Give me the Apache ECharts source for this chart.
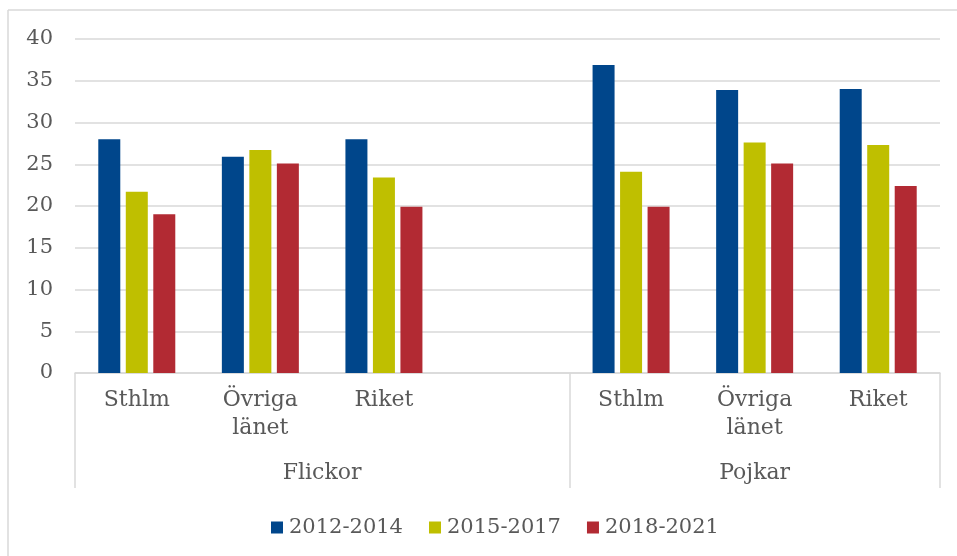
<!DOCTYPE html>
<html>
<head>
<meta charset="utf-8">
<script src="https://cdn.jsdelivr.net/npm/echarts@6/dist/echarts.min.js"></script>
<style>
  html, body { margin: 0; padding: 0; background: #fff; }
  #chart { width: 957px; height: 556px; }
</style>
</head>
<body>
<div id="chart"></div>
<script>
// kategorier (tom plats mellan Flickor och Pojkar)
const categories = ['Sthlm', 'Övriga\nlänet', 'Riket', '', 'Sthlm', 'Övriga\nlänet', 'Riket'];
const groups = ['Flickor', 'Pojkar'];
const groupSpans = [4, 3];
const seriesNames = ['2012-2014', '2015-2017', '2018-2021'];
const colors = ['#00468b', '#bfbf00', '#b22a33'];

const v2012 = [28.0, 25.9, 28.0, null, 36.9, 33.9, 34.0];
const v2015 = [21.7, 26.7, 23.4, null, 24.1, 27.6, 27.3];
const v2018 = [19.0, 25.1, 19.9, null, 19.9, 25.1, 22.4];
const yTicks = [0, 5, 10, 15, 20, 25, 30, 35, 40];

const textColor = '#595959';
const lineColor = '#d9d9d9';
const font = '"DejaVu Serif", serif';

// gruppgränser och mitten för grupp-etiketter
const bounds = [0];
groupSpans.forEach((s) => bounds.push(bounds[bounds.length - 1] + s));
const centers = groups.map((g, i) => bounds[i] + groupSpans[i] / 2);

const chart = echarts.init(document.getElementById('chart'));

const makeSeries = (name, data, color) => ({
  name,
  type: 'bar',
  data,
  barWidth: 22,
  barGap: '25%',
  itemStyle: { color },
  xAxisIndex: 0,
});

chart.setOption({
  animation: false,
  color: colors,
  textStyle: { fontFamily: font },
  grid: { left: 75, right: 17, top: 39, bottom: 183 },
  legend: {
    data: seriesNames,
    top: 512,
    left: 266,
    itemWidth: 12,
    itemHeight: 12,
    itemGap: 26,
    icon: 'rect',
    textStyle: { color: textColor, fontSize: 21, fontFamily: font, padding: [0, 0, 0, 1] },
  },
  xAxis: [
    {
      type: 'category',
      data: categories,
      axisLine: { lineStyle: { color: lineColor, width: 1.5 } },
      axisTick: { show: false },
      axisLabel: {
        color: textColor,
        fontSize: 22,
        fontFamily: font,
        lineHeight: 28,
        margin: 13,
        interval: 0,
      },
    },
    {
      type: 'value',
      min: 0,
      max: categories.length,
      position: 'bottom',
      axisLine: { show: false },
      splitLine: { show: false },
      axisTick: {
        show: true,
        customValues: bounds,
        length: 115,
        lineStyle: { color: lineColor, width: 1.5 },
      },
      axisLabel: {
        customValues: centers,
        formatter: (v) => groups[centers.indexOf(v)] || '',
        color: textColor,
        fontSize: 22,
        fontFamily: font,
        margin: 89,
      },
    },
  ],
  yAxis: {
    type: 'value',
    min: yTicks[0],
    max: yTicks[yTicks.length - 1],
    interval: 5,
    axisLine: { show: false },
    axisTick: { show: false },
    axisLabel: { color: textColor, fontSize: 21, fontFamily: font, margin: 22 },
    splitLine: { lineStyle: { color: lineColor, width: 1.5 } },
  },
  graphic: [
    { type: 'line', shape: { x1: 8, y1: 10, x2: 957, y2: 10 }, style: { stroke: lineColor, lineWidth: 1.5 } },
    { type: 'line', shape: { x1: 8, y1: 10, x2: 8, y2: 556 }, style: { stroke: lineColor, lineWidth: 1.5 } },
  ],
  series: [
    makeSeries(seriesNames[0], v2012, colors[0]),
    makeSeries(seriesNames[1], v2015, colors[1]),
    makeSeries(seriesNames[2], v2018, colors[2]),
  ],
});
</script>
</body>
</html>
